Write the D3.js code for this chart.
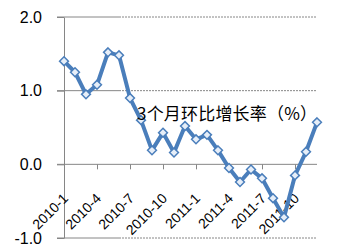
<!DOCTYPE html>
<html>
<head>
<meta charset="utf-8">
<script src="https://cdn.jsdelivr.net/npm/d3@7"></script>
<style>
  html, body { margin: 0; padding: 0; background: #fff; }
  svg { display: block; }
</style>
</head>
<body>
<div id="chart"></div>
<script>
// months 2010-1 .. 2011-12
const MONTHS = [
  "2010-1", "2010-2", "2010-3", "2010-4", "2010-5", "2010-6",
  "2010-7", "2010-8", "2010-9", "2010-10", "2010-11", "2010-12",
  "2011-1", "2011-2", "2011-3", "2011-4", "2011-5", "2011-6",
  "2011-7", "2011-8", "2011-9", "2011-10", "2011-11", "2011-12"
];

// 3个月环比增长率 (%)
const GROWTH = [
  1.40, 1.25, 0.95, 1.08, 1.52, 1.48,
  0.90, 0.60, 0.19, 0.43, 0.16, 0.52,
  0.34, 0.40, 0.19, -0.05, -0.24, -0.07,
  -0.19, -0.46, -0.72, -0.15, 0.17, 0.57
];

const X_TICKS = ["2010-1", "2010-4", "2010-7", "2010-10", "2011-1", "2011-4", "2011-7", "2011-10"];
const Y_TICKS = [-1, 0, 1, 2];
const SERIES_LABEL = "3个月环比增长率（%）";

const width = 344, height = 251;
const m = { top: 17, right: 27, bottom: 13, left: 64 };

const svg = d3.select("#chart").append("svg")
  .attr("width", width)
  .attr("height", height);

const x = d3.scalePoint()
  .domain(MONTHS)
  .range([m.left, width - m.right]);

const y = d3.scaleLinear()
  .domain([-1, 2])
  .range([height - m.bottom, m.top]);

const axisColor = "#868686";

// ----- gridlines (solid stub on the left, dotted beyond) -----
const grid = svg.append("g");
Y_TICKS.filter(v => v !== 0).forEach(v => {
  grid.append("line")
    .attr("x1", m.left - 7).attr("x2", x(MONTHS[5]))
    .attr("y1", y(v)).attr("y2", y(v))
    .attr("stroke", axisColor).attr("stroke-width", 1);
  grid.append("line")
    .attr("x1", x(MONTHS[5])).attr("x2", x(MONTHS[MONTHS.length - 1]))
    .attr("y1", y(v)).attr("y2", y(v))
    .attr("stroke", axisColor).attr("stroke-width", 1)
    .attr("stroke-dasharray", "2,1");
});

// ----- y axis -----
const yAxis = svg.append("g")
  .attr("transform", `translate(${m.left},0)`)
  .call(d3.axisLeft(y)
    .tickValues(Y_TICKS)
    .tickFormat(d3.format(".1f"))
    .tickSize(7)
    .tickPadding(15)
    .tickSizeOuter(0));

yAxis.select(".domain").attr("stroke", axisColor);
yAxis.selectAll(".tick line").attr("stroke", axisColor);
yAxis.selectAll(".tick text")
  .attr("font-family", "'Liberation Sans', Arial, sans-serif")
  .attr("font-size", 16)
  .attr("fill", "#000")
  .text(d => d3.format(".1f")(d).replace("−", "-"));

// ----- x axis at zero -----
const xAxis = svg.append("g")
  .attr("transform", `translate(0,${y(0)})`)
  .call(d3.axisBottom(x)
    .tickValues(X_TICKS)
    .tickSize(5)
    .tickSizeOuter(0)
    .tickFormat(d => d));

xAxis.select(".domain")
  .attr("stroke", axisColor)
  .attr("d", `M${m.left - 7},0H${x(MONTHS[MONTHS.length - 1])}`);
xAxis.selectAll(".tick line").attr("stroke", axisColor);
xAxis.selectAll(".tick text")
  .attr("font-family", "'Liberation Sans', Arial, sans-serif")
  .attr("font-size", 14)
  .attr("fill", "#000")
  .attr("text-anchor", "end")
  .attr("dy", 0)
  .attr("y", 0)
  .attr("transform", "translate(4.5,35) rotate(-45)");

// ----- series -----
const blue = "#4a7ebb";

const line = d3.line()
  .x((d, i) => x(MONTHS[i]))
  .y(d => y(d));

svg.append("path")
  .datum(GROWTH)
  .attr("fill", "none")
  .attr("stroke", blue)
  .attr("stroke-width", 4)
  .attr("stroke-linejoin", "round")
  .attr("d", line);

svg.append("g")
  .selectAll("path")
  .data(GROWTH)
  .join("path")
  .attr("d", d3.symbol(d3.symbolDiamond2, 50))
  .attr("transform", (d, i) => `translate(${x(MONTHS[i])},${y(d)})`)
  .attr("fill", "#e6eef8")
  .attr("stroke", blue)
  .attr("stroke-width", 1.5);

// ----- series label -----
svg.append("text")
  .attr("x", 137)
  .attr("y", 120)
  .attr("font-family", "'Noto Sans CJK SC', sans-serif")
  .attr("font-size", 17)
  .attr("textLength", 180)
  .attr("lengthAdjust", "spacing")
  .attr("fill", "#000")
  .text(SERIES_LABEL);
</script>
</body>
</html>
